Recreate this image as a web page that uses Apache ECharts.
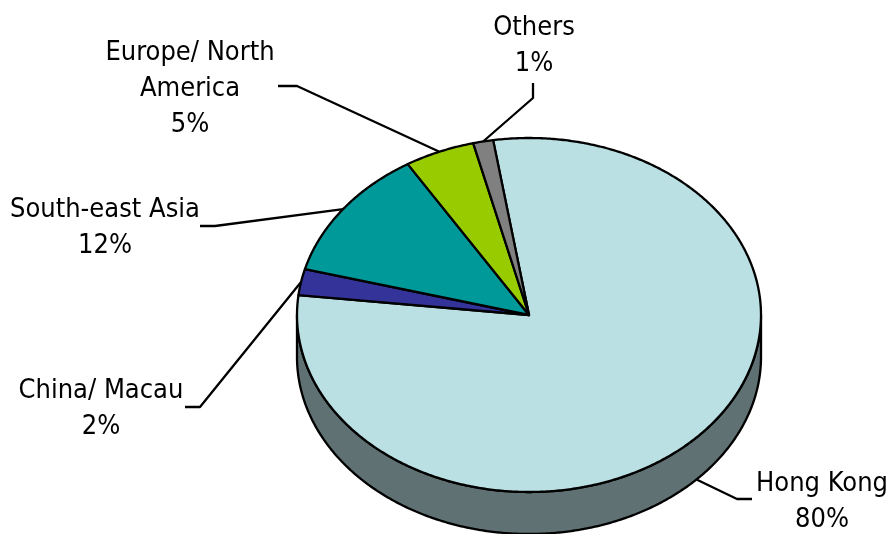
<!DOCTYPE html>
<html>
<head>
<meta charset="utf-8">
<style>html,body{margin:0;padding:0;background:#fff}#c{width:896px;height:534px}</style>
<script src="https://cdn.jsdelivr.net/npm/echarts@6/dist/echarts.min.js"></script>
</head>
<body>
<div id="c"></div>
<script>
// Data
const categories = ['Hong Kong', 'China/ Macau', 'South-east Asia', 'Europe/ North America', 'Others'];
const shares = [79.5, 2.4, 12.1, 4.9, 1.4];      // estimated unrounded shares, printed rounded
const labelLines = [['Hong Kong'], ['China/ Macau'], ['South-east Asia'], ['Europe/ North', 'America'], ['Others']];

// Style and layout
const colors = ['#BAE0E3', '#333399', '#009999', '#99CC00', '#808080'];
const wallColor = '#5F7173';
const cx = 529, cy = 315, rx = 232, ry = 177, depth = 42, startDeg = -8.9;
const labelCenter = [[822, 484], [101, 391], [105, 210], [190, 53], [534, 28]];
const elbows = [[[737, 499], [752, 499]], [[200, 407], [185, 407]], [[215, 226], [200, 226]], [[297, 86], [278, 86]], [[533, 98], [533, 83]]];
const FONT = '"DejaVu Sans Condensed", "DejaVu Sans", sans-serif';
const FS = 27, LH = 36;

const total = shares.reduce((a, b) => a + b, 0);
function pt(deg, dy) {
  const r = deg * Math.PI / 180;
  return [cx + rx * Math.sin(r), cy - ry * Math.cos(r) + (dy || 0)];
}
function sliceRange(i) {
  let s = startDeg;
  for (let k = 0; k < i; k++) s += shares[k] / total * 360;
  return [s, s + shares[i] / total * 360];
}
function arc(a, b) {
  const out = [], n = Math.max(2, Math.ceil(Math.abs(b - a) * 2));
  for (let j = 0; j <= n; j++) out.push(a + (b - a) * j / n);
  return out;
}
const line = { stroke: '#000', lineWidth: 2.3, lineJoin: 'round' };

const rows = categories.map((c, i) => ({ name: c, value: [shares[i], i] }));

function wallItem(params, api) {
  const i = api.value(1), [s, e] = sliceRange(i);
  const a = Math.max(s, 90), b = Math.min(e, 270);
  if (b <= a) return { type: 'group', children: [] };
  const ds = arc(a, b);
  const pts = ds.map(d => pt(d, 0)).concat(ds.slice().reverse().map(d => pt(d, depth)));
  return { type: 'polygon', shape: { points: pts }, style: Object.assign({ fill: wallColor }, line) };
}
function sliceItem(params, api) {
  const i = api.value(1), [s, e] = sliceRange(i);
  const pts = [[cx, cy]].concat(arc(s, e).map(d => pt(d, 0)));
  return { type: 'polygon', shape: { points: pts }, style: Object.assign({ fill: colors[i] }, line) };
}
function labelItem(params, api) {
  const i = api.value(1), [s, e] = sliceRange(i);
  const mid = (s + e) / 2;
  const front = Math.cos(mid * Math.PI / 180) < 0;
  const anchor = pt(mid, front ? depth : 0);
  const txt = labelLines[i].concat(Math.round(api.value(0)) + '%').join('\n');
  return {
    type: 'group',
    children: [
      { type: 'polyline', shape: { points: [anchor].concat(elbows[i]) }, style: Object.assign({ fill: null }, line) },
      { type: 'text', style: { text: txt, x: labelCenter[i][0], y: labelCenter[i][1] - LH / 2,
          align: 'center', verticalAlign: 'top', fontFamily: FONT, fontSize: FS, lineHeight: LH, fill: '#000' } }
    ]
  };
}
const chart = echarts.init(document.getElementById('c'));
chart.setOption({
  animation: false,
  backgroundColor: '#fff',
  series: [
    { type: 'custom', coordinateSystem: 'none', renderItem: wallItem, data: rows, silent: true, z: 1 },
    { type: 'custom', coordinateSystem: 'none', renderItem: sliceItem, data: rows, silent: true, z: 2 },
    { type: 'custom', coordinateSystem: 'none', renderItem: labelItem, data: rows, silent: true, z: 3 }
  ]
});
</script>
</body>
</html>
